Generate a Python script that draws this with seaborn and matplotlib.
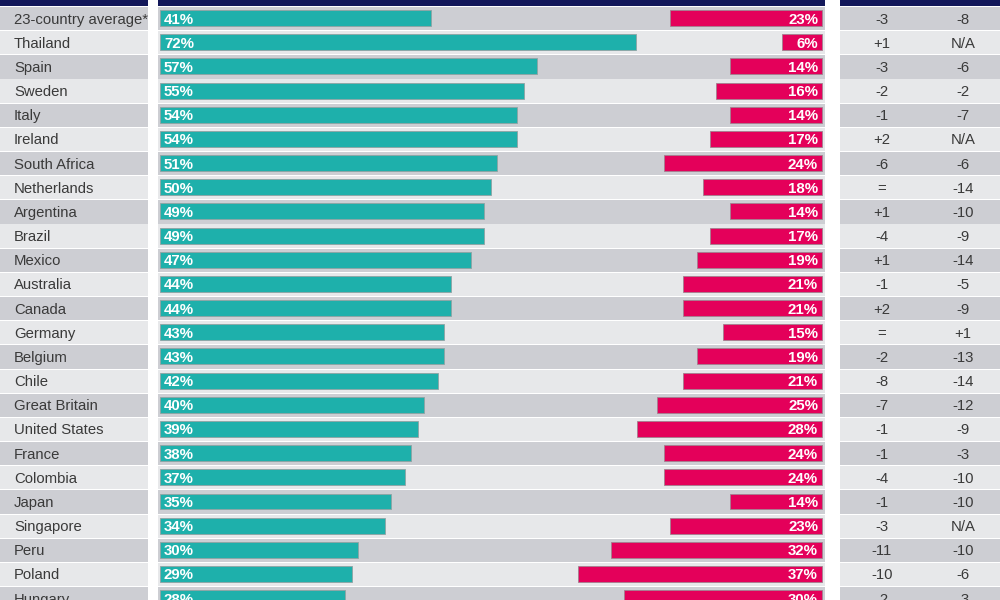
import matplotlib
matplotlib.use("Agg")
import matplotlib.pyplot as plt
import seaborn as sns
import pandas as pd

countries = ["23-country average*", "Thailand", "Spain", "Sweden", "Italy", "Ireland",
             "South Africa", "Netherlands", "Argentina", "Brazil", "Mexico", "Australia",
             "Canada", "Germany", "Belgium", "Chile", "Great Britain", "United States",
             "France", "Colombia", "Japan", "Singapore", "Peru", "Poland", "Hungary"]
teal_vals = [41, 72, 57, 55, 54, 54, 51, 50, 49, 49, 47, 44, 44, 43, 43, 42, 40, 39,
             38, 37, 35, 34, 30, 29, 28]
pink_vals = [23, 6, 14, 16, 14, 17, 24, 18, 14, 17, 19, 21, 21, 15, 19, 21, 25, 28,
             24, 24, 14, 23, 32, 37, 30]
change1 = ["-3", "+1", "-3", "-2", "-1", "+2", "-6", "=", "+1", "-4", "+1", "-1", "+2",
           "=", "-2", "-8", "-7", "-1", "-1", "-4", "-1", "-3", "-11", "-10", "-2"]
change2 = ["-8", "N/A", "-6", "-2", "-7", "N/A", "-6", "-14", "-10", "-9", "-14", "-5",
           "-9", "+1", "-13", "-14", "-12", "-9", "-3", "-10", "-10", "N/A", "-10", "-6", "-3"]

TEAL = "#1eb0ab"
PINK = "#e4005a"
NAVY = "#13185a"
DARK = "#cdced3"
LIGHT = "#e7e8ea"
TXT = "#3a3a3a"

df = pd.DataFrame({"country": countries, "teal": teal_vals, "pink": pink_vals})
n = len(countries)

sns.set_theme(style="white")
plt.rcParams["font.family"] = ["Liberation Sans", "DejaVu Sans"]

fig = plt.figure(figsize=(10, 6), dpi=100)
fig.patch.set_facecolor("white")

YLIM = (24.076, -0.748)
VA = "center_baseline"


def bands(ax):
    ax.axhspan(YLIM[1], -0.5, color=NAVY, lw=0, zorder=0)
    for i in range(n):
        ax.axhspan(i - 0.5 + 0.04, i + 0.5, color=DARK if i % 2 == 0 else LIGHT,
                   lw=0, zorder=0)


# left label panel
axl = fig.add_axes([0.0, 0.0, 0.148, 1.0])
bands(axl)
axl.set_xlim(0, 148)
axl.set_ylim(*YLIM)
for i, c in enumerate(countries):
    axl.text(14, i, c, ha="left", va=VA, fontsize=10.7, color=TXT)
axl.set_axis_off()

# middle bar panel
axm = fig.add_axes([0.158, 0.0, 0.667, 1.0])
bands(axm)
sns.barplot(data=df, x="teal", y="country", orient="h", color=TEAL, saturation=1,
            width=0.66, edgecolor="#8fa3a3", linewidth=0.6, ax=axm, zorder=2)
axm.set_xlim(-0.3, 100.6)
axm.set_ylim(*YLIM)
for i, v in enumerate(teal_vals):
    axm.text(0.6, i, f"{v}%", ha="left", va=VA, fontsize=10.8,
             fontweight="bold", color="white", zorder=5)
axm.set_axis_off()

axp = axm.twiny()
sns.barplot(data=df, x="pink", y="country", orient="h", color=PINK, saturation=1,
            width=0.66, edgecolor="#a3808f", linewidth=0.6, ax=axp, zorder=2)
axp.set_xlim(100.6, -0.45)
axp.set_ylim(*YLIM)
for i, v in enumerate(pink_vals):
    axp.text(0.6, i, f"{v}%", ha="right", va=VA, fontsize=10.8,
             fontweight="bold", color="white", zorder=5)
axp.set_axis_off()

# right change panel
axr = fig.add_axes([0.840, 0.0, 0.160, 1.0])
bands(axr)
axr.set_xlim(840, 1000)
axr.set_ylim(*YLIM)
for i in range(n):
    axr.text(882, i, change1[i], ha="center", va=VA, fontsize=10.7, color=TXT)
    axr.text(963, i, change2[i], ha="center", va=VA, fontsize=10.7, color=TXT)
axr.set_axis_off()

fig.savefig("out.png", dpi=100, facecolor="white")
